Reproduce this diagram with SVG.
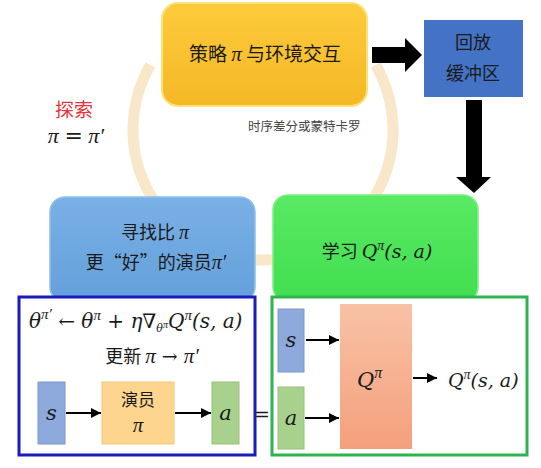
<svg xmlns="http://www.w3.org/2000/svg" width="541" height="468" viewBox="0 0 541 468">
<defs>
  <linearGradient id="gY" x1="0" y1="0" x2="0" y2="1">
    <stop offset="0" stop-color="#FCCB3C"/>
    <stop offset="1" stop-color="#F5B825"/>
  </linearGradient>
  <linearGradient id="gB" x1="0" y1="0" x2="0" y2="1">
    <stop offset="0" stop-color="#79B0E6"/>
    <stop offset="1" stop-color="#64A0DA"/>
  </linearGradient>
  <linearGradient id="gG" x1="0" y1="0" x2="0" y2="1">
    <stop offset="0" stop-color="#58EA63"/>
    <stop offset="1" stop-color="#42DE50"/>
  </linearGradient>
  <linearGradient id="gQ" x1="0" y1="0" x2="0" y2="1">
    <stop offset="0" stop-color="#F8C2A6"/>
    <stop offset="1" stop-color="#F4A07C"/>
  </linearGradient>
  <marker id="ah" viewBox="0 0 10 10" refX="10" refY="5" markerWidth="5" markerHeight="5" orient="auto" markerUnits="strokeWidth">
    <path d="M0,0 L10,5 L0,10 z" fill="#000"/>
  </marker>
  <style>
    .cn{font-family:"Noto Sans CJK SC","Noto Sans",sans-serif;fill:#1a1a1a}
    .m{font-family:"DejaVu Serif","Liberation Serif",serif;font-style:italic;fill:#1a1a1a}
    .p{font-family:"Liberation Serif","DejaVu Serif",serif;font-style:italic}
    .r{font-family:"DejaVu Serif","Liberation Serif",serif;font-style:normal}
    .ln{stroke:#000;stroke-width:2;fill:none;marker-end:url(#ah)}
  </style>
</defs>

<!-- cycle arc -->
<path d="M150.4,65 A130,130 0 1 0 375.6,65" fill="none" stroke="#F8E7C9" stroke-width="11"/>

<g id="interact">
  <rect x="162" y="3" width="205" height="103" rx="16" fill="url(#gY)" stroke="#FDE27A" stroke-width="2"/>
  <text x="265" y="61" text-anchor="middle" font-size="19" class="cn">策略 <tspan class="m p" font-size="21">π</tspan> 与环境交互</text>
</g>

<g id="buffer">
  <rect x="424" y="20" width="99" height="77" fill="#4472C4"/>
  <text x="473" y="49" text-anchor="middle" font-size="18" class="cn">回放</text>
  <text x="473" y="80" text-anchor="middle" font-size="18" class="cn">缓冲区</text>
</g>

<g id="find">
  <rect x="50" y="197" width="205" height="105" rx="15" fill="url(#gB)" stroke="#8CC0EE" stroke-width="1.5"/>
  <text x="155" y="239" text-anchor="middle" font-size="18" class="cn">寻找比 <tspan class="m p" font-size="20">π</tspan></text>
  <text x="156" y="269" text-anchor="middle" font-size="18" class="cn">更“好”的演员<tspan class="m p" font-size="20">π′</tspan></text>
</g>

<g id="learn">
  <rect x="273" y="195" width="205" height="107" rx="15" fill="url(#gG)" stroke="#7CF084" stroke-width="1.5"/>
  <text x="377" y="258" text-anchor="middle" font-size="18" class="cn">学习 <tspan class="m" font-size="19">Q</tspan><tspan class="m p" font-size="14" dy="-8">π</tspan><tspan class="m" font-size="19" dy="8">(s, a)</tspan></text>
</g>

<text x="248" y="131" font-size="12.5" class="cn" style="fill:#444">时序差分或蒙特卡罗</text>

<g id="explore">
  <text x="74" y="117" text-anchor="middle" font-size="19" class="cn" style="fill:#E5343B">探索</text>
  <text x="76" y="143" text-anchor="middle" font-size="22" class="m p">π <tspan class="r">=</tspan> π′</text>
</g>

<g id="actor-panel">
  <rect x="19" y="297" width="236" height="158" fill="#fff" stroke="#1B1BC0" stroke-width="3"/>
  <text x="29" y="328" font-size="20" class="m">θ<tspan class="p" font-size="15" dy="-9">π′</tspan><tspan class="r" dy="9"> ← </tspan>θ<tspan class="p" font-size="15" dy="-8">π</tspan><tspan class="r" dy="8"> + </tspan>η∇<tspan font-size="11" dy="4">θ</tspan><tspan class="p" font-size="10" dy="-4">π</tspan><tspan dy="0">Q</tspan><tspan class="p" font-size="15" dy="-8">π</tspan><tspan dy="8">(s, a)</tspan></text>
  <text x="152" y="363" text-anchor="middle" font-size="18" class="cn">更新 <tspan class="m p" font-size="21">π</tspan><tspan class="r" font-size="19"> → </tspan><tspan class="m p" font-size="21">π′</tspan></text>
  <g id="actor-s">
    <rect x="38" y="382" width="27" height="62" fill="#8EA9DB" stroke="#7D98CC" stroke-width="1"/>
    <text x="51.5" y="420" text-anchor="middle" font-size="21" class="m">s</text>
  </g>
  <g id="actor">
    <rect x="102" y="382" width="72" height="62" fill="#FDD58E" stroke="#F2C77A" stroke-width="1"/>
    <text x="138" y="406" text-anchor="middle" font-size="17" class="cn">演员</text>
    <text x="138" y="432" text-anchor="middle" font-size="21" class="m p">π</text>
  </g>
  <g id="actor-a">
    <rect x="212" y="382" width="27" height="62" fill="#A9D18E" stroke="#96C27A" stroke-width="1"/>
    <text x="225.5" y="420" text-anchor="middle" font-size="21" class="m">a</text>
  </g>
</g>

<text x="262" y="421" text-anchor="middle" font-size="19" class="r" style="fill:#1a1a1a">=</text>

<g id="critic-panel">
  <rect x="272" y="297" width="255" height="158" fill="#fff" stroke="#2EB350" stroke-width="3"/>
  <g id="critic-s">
    <rect x="278" y="309" width="26" height="63" fill="#8EA9DB" stroke="#7D98CC" stroke-width="1"/>
    <text x="291" y="347" text-anchor="middle" font-size="21" class="m">s</text>
  </g>
  <g id="critic-a">
    <rect x="278" y="387" width="26" height="62" fill="#A9D18E" stroke="#96C27A" stroke-width="1"/>
    <text x="291" y="425" text-anchor="middle" font-size="21" class="m">a</text>
  </g>
  <g id="critic">
    <rect x="340" y="304" width="72" height="145" fill="url(#gQ)"/>
    <text x="357" y="387" font-size="21" class="m">Q<tspan class="p" font-size="16" dy="-9">π</tspan></text>
  </g>
  <text x="448" y="387" font-size="19" class="m">Q<tspan class="p" font-size="14" dy="-8">π</tspan><tspan dy="8">(s, a)</tspan></text>
</g>

<g id="connectors">
  <polygon points="372,47 405,47 405,38 422,55 405,72 405,63 372,63" fill="#000"/>
  <polygon points="466,100 482,100 482,177 491,177 474,193 456,177 466,177" fill="#000"/>
  <line x1="66" y1="413" x2="101" y2="413" class="ln"/>
  <line x1="175" y1="413" x2="211" y2="413" class="ln"/>
  <line x1="306" y1="340" x2="339" y2="340" class="ln"/>
  <line x1="305" y1="418" x2="339" y2="418" class="ln"/>
  <line x1="413" y1="378" x2="437" y2="378" class="ln"/>
</g>
</svg>
